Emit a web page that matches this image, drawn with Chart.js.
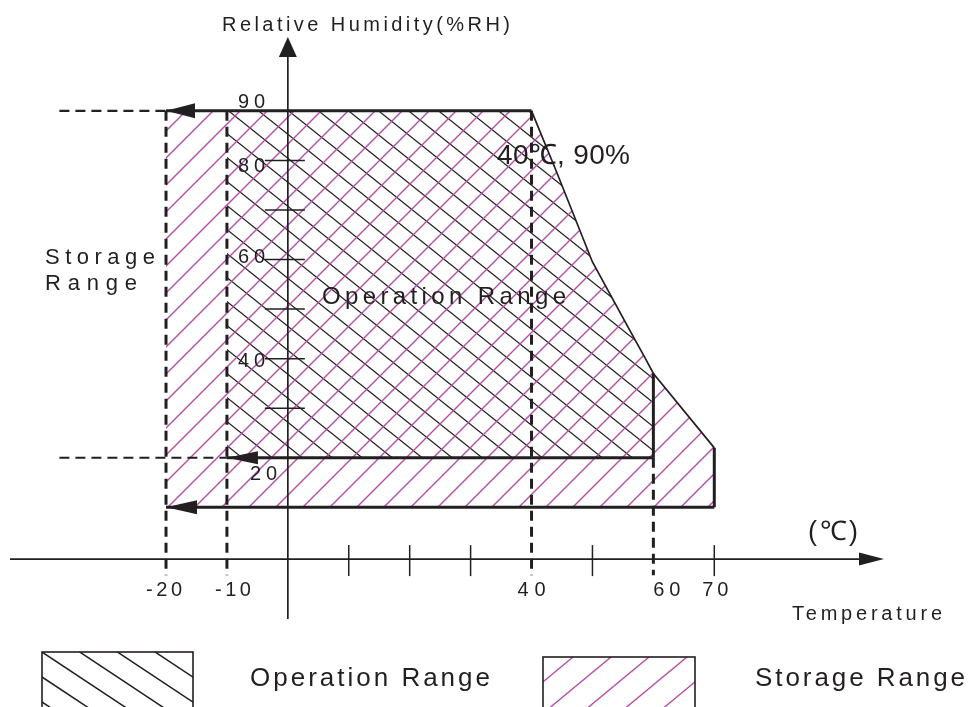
<!DOCTYPE html>
<html><head><meta charset="utf-8">
<script src="https://cdn.jsdelivr.net/npm/chart.js@4/dist/chart.umd.min.js"></script>
<style>html,body{margin:0;padding:0;background:#fff;overflow:hidden}canvas{display:block}</style>
</head><body>
<canvas id="c" width="969" height="707"></canvas>
<script>
// ---------------- data ----------------
const storageTemp = [-20, 70];          // storage temperature range (°C)
const storageRH   = [10, 90];           // storage humidity range (%RH)
const operationTemp = [-10, 60];        // operation temperature range (°C)
const operationRH   = [20, 90];         // operation humidity range (%RH)
const curveTemp = [40, 44, 50, 56, 58.7, 60, 70];   // upper-right humidity limit
const curveRH   = [90, 78, 59.5, 46, 40, 37, 22];
const tempTickLabelValues = [-20, -10, 40, 60, 70];
const tempTickLabels      = ['-20', '-10', '40', '60', '70'];
const tempMinorTicks      = [10, 20, 30, 50, 70];
const rhTickLabelValues   = [90, 80, 60, 40, 20];
const rhTickLabels        = ['90', '80', '60', '40', '20'];
const rhMinorTicks        = [30, 40, 50, 60, 70, 80];

// ---------------- styles ----------------
const INK = '#231f20';
const MAG = '#b54fa8';
const FONT = '"Liberation Sans", Arial, sans-serif';

const canvas = document.getElementById('c');
const mainCtx = canvas.getContext('2d');

function makePattern(W, H, color, lw, rising) {
  const c = document.createElement('canvas'); c.width = W; c.height = H;
  const g = c.getContext('2d');
  g.strokeStyle = color; g.lineWidth = lw;
  for (let i = -1; i <= 1; i++) for (let j = -1; j <= 1; j++) {
    const ox = i * W, oy = j * H;
    g.beginPath();
    if (rising) { g.moveTo(ox, oy + H); g.lineTo(ox + W, oy); }
    else { g.moveTo(ox, oy); g.lineTo(ox + W, oy + H); }
    g.stroke();
  }
  return mainCtx.createPattern(c, 'repeat');
}
const magPattern = makePattern(27, 27, MAG, 1.4, true);
const inkPattern = makePattern(30, 24, INK, 1.3, false);

const pts = (xs, ys) => xs.map((x, i) => ({x, y: ys[i]}));
const curve = pts(curveTemp, curveRH);
const curveToOp = curve.filter(p => p.x <= operationTemp[1]);

const [sT0, sT1] = storageTemp, [sR0, sR1] = storageRH;
const [oT0, oT1] = operationTemp, [oR0, oR1] = operationRH;
const lastCurve = curve[curve.length - 1];
const opCurveEnd = curveToOp[curveToOp.length - 1];

// reference line extents (layout geometry)
const DASH_BOTTOM = -3.7, DASH_LEFT = -37.5;

const fillDs = (data, bg, base) => ({data, showLine: true, fill: {value: base}, backgroundColor: bg,
  borderColor: 'rgba(0,0,0,0)', borderWidth: 1, pointRadius: 0, order: 5});
const lineDs = (data, w, dash) => ({data, showLine: true, fill: false, borderColor: INK,
  borderWidth: w, borderDash: dash || [], pointRadius: 0, order: 1, borderCapStyle: 'butt'});

const datasets = [
  fillDs([{x: sT0, y: sR1}, ...curve, {x: sT1, y: sR0}], magPattern, sR0),
  fillDs([{x: oT0, y: oR1}, ...curveToOp, {x: oT1, y: oR0}], inkPattern, oR0),
  lineDs([{x: sT0, y: sR1}, {x: curveTemp[0], y: curveRH[0]}], 3),
  lineDs(curve, 1.7),
  lineDs([opCurveEnd, {x: oT1, y: oR0}], 3),
  lineDs([{x: oT0, y: oR0}, {x: oT1, y: oR0}], 3),
  lineDs([lastCurve, {x: sT1, y: sR0}], 3),
  lineDs([{x: sT0, y: sR0}, {x: sT1, y: sR0}], 3),
  lineDs([{x: sT0, y: sR1}, {x: sT0, y: DASH_BOTTOM}], 3, [10, 6]),
  lineDs([{x: oT0, y: oR1}, {x: oT0, y: DASH_BOTTOM}], 3, [10, 6]),
  lineDs([{x: curveTemp[0], y: oR1}, {x: curveTemp[0], y: DASH_BOTTOM}], 3, [10, 6]),
  lineDs([{x: oT1, y: oR0}, {x: oT1, y: DASH_BOTTOM}], 3, [10, 6]),
  lineDs([{x: DASH_LEFT, y: sR1}, {x: sT0, y: sR1}], 2.2, [10, 6]),
  lineDs([{x: DASH_LEFT, y: oR0}, {x: oT0, y: oR0}], 2.2, [10, 6]),
];

function fitText(ctx, s, left, base, size, width) {
  ctx.font = size + 'px ' + FONT;
  ctx.letterSpacing = '0px';
  const m = ctx.measureText(s).width;
  const n = [...s].length;
  const sp = n > 1 ? (width - m) / (n - 1) : 0;
  ctx.letterSpacing = sp + 'px';
  ctx.textAlign = 'left'; ctx.textBaseline = 'alphabetic';
  ctx.fillText(s, left, base);
  ctx.letterSpacing = '0px';
}
function tri(ctx, a, b, c) {
  ctx.beginPath(); ctx.moveTo(a[0], a[1]); ctx.lineTo(b[0], b[1]); ctx.lineTo(c[0], c[1]); ctx.closePath(); ctx.fill();
}
function hatchBox(ctx, x, y, w, h, color, lw, W, H, rising, phase) {
  ctx.save();
  ctx.beginPath(); ctx.rect(x, y, w, h); ctx.clip();
  ctx.strokeStyle = color; ctx.lineWidth = lw;
  for (let k = -10; k <= 10; k++) {
    const x0 = x + phase + k * W;
    ctx.beginPath();
    if (rising) { ctx.moveTo(x0 - 4 * W, y + 4 * H); ctx.lineTo(x0 + 4 * W, y - 4 * H); }
    else { ctx.moveTo(x0 - 4 * W, y - 4 * H); ctx.lineTo(x0 + 4 * W, y + 4 * H); }
    ctx.stroke();
  }
  ctx.restore();
  ctx.strokeStyle = INK; ctx.lineWidth = 1.6;
  ctx.strokeRect(x, y, w, h);
}

const drawing = {
  id: 'drawing',
  afterDatasetsDraw(chart) {
    const ctx = chart.ctx, X = chart.scales.x, Y = chart.scales.y;
    const px = v => X.getPixelForValue(v), py = v => Y.getPixelForValue(v);
    const ax = px(0), ay = py(-0.45);
    ctx.save();
    ctx.strokeStyle = INK; ctx.fillStyle = INK; ctx.lineCap = 'butt';
    // axes
    ctx.lineWidth = 1.7;
    ctx.beginPath(); ctx.moveTo(10, ay); ctx.lineTo(866, ay); ctx.stroke();
    ctx.beginPath(); ctx.moveTo(ax, 619); ctx.lineTo(ax, 52); ctx.stroke();
    tri(ctx, [884, ay], [859, ay - 6.5], [859, ay + 6.5]);
    tri(ctx, [ax, 37], [ax - 9, 57], [ax + 9, 57]);
    // minor ticks
    ctx.lineWidth = 1.5;
    tempMinorTicks.forEach(v => { ctx.beginPath(); ctx.moveTo(px(v), ay - 14); ctx.lineTo(px(v), ay + 17); ctx.stroke(); });
    rhMinorTicks.forEach(v => { ctx.beginPath(); ctx.moveTo(ax - 23, py(v)); ctx.lineTo(ax + 17, py(v)); ctx.stroke(); });
    // left arrows at range corners
    tri(ctx, [px(sT0), py(sR1)], [px(sT0) + 29, py(sR1) - 7.5], [px(sT0) + 29, py(sR1) + 7.5]);
    tri(ctx, [px(oT0), py(oR0)], [px(oT0) + 31, py(oR0) - 6.5], [px(oT0) + 31, py(oR0) + 6.5]);
    tri(ctx, [px(sT0), py(sR0)], [px(sT0) + 31, py(sR0) - 7], [px(sT0) + 31, py(sR0) + 7]);
    // tick labels
    const rhLab = {90: [238, -3], 80: [238, 12], 60: [238, 3], 40: [238, 8], 20: [250, 22]};
    rhTickLabelValues.forEach((v, i) => {
      const [l, dy] = rhLab[v];
      fitText(ctx, rhTickLabels[i], l, py(v) + dy, 20, 27);
    });
    const tLab = {'-20': [-20, 36], '-10': [-12, 36], '40': [-14, 28], '60': [0, 27], '70': [-12, 26]};
    tempTickLabelValues.forEach((v, i) => {
      const [dx, w] = tLab[String(v)];
      fitText(ctx, tempTickLabels[i], px(v) + dx, 596, 20, w);
    });
    // axis titles and annotations
    fitText(ctx, 'Relative Humidity(%RH)', 222, 31, 20, 288);
    fitText(ctx, '(\u2103)', 808, 540, 27, 50);
    fitText(ctx, 'Temperature', 792, 620, 20, 150);
    fitText(ctx, 'Storage', 45, 264, 22, 110);
    fitText(ctx, 'Range', 45, 290, 22, 92);
    fitText(ctx, 'Operation Range', 322, 304, 24, 244);
    fitText(ctx, '40\u2103, 90%', 497, 164, 28, 133);
    // legend
    hatchBox(ctx, 42, 652, 151, 80, INK, 1.5, 37.7, 25, false, 0);
    fitText(ctx, 'Operation Range', 250, 686, 26, 240);
    hatchBox(ctx, 543, 657, 152, 80, MAG, 1.4, 38, 31.5, true, 30);
    fitText(ctx, 'Storage Range', 755, 686, 26, 210);
    ctx.restore();
  }
};

new Chart(canvas, {
  type: 'scatter',
  data: {datasets},
  options: {
    responsive: false, animation: false, devicePixelRatio: 1, events: [],
    layout: {padding: 0},
    plugins: {legend: {display: false}, tooltip: {enabled: false}},
    elements: {point: {radius: 0}, line: {tension: 0}},
    scales: {
      x: {type: 'linear', min: -47.25, max: 111.81, display: false},
      y: {type: 'linear', min: -30.29, max: 112.36, display: false}
    }
  },
  plugins: [drawing]
});
</script>
</body></html>
